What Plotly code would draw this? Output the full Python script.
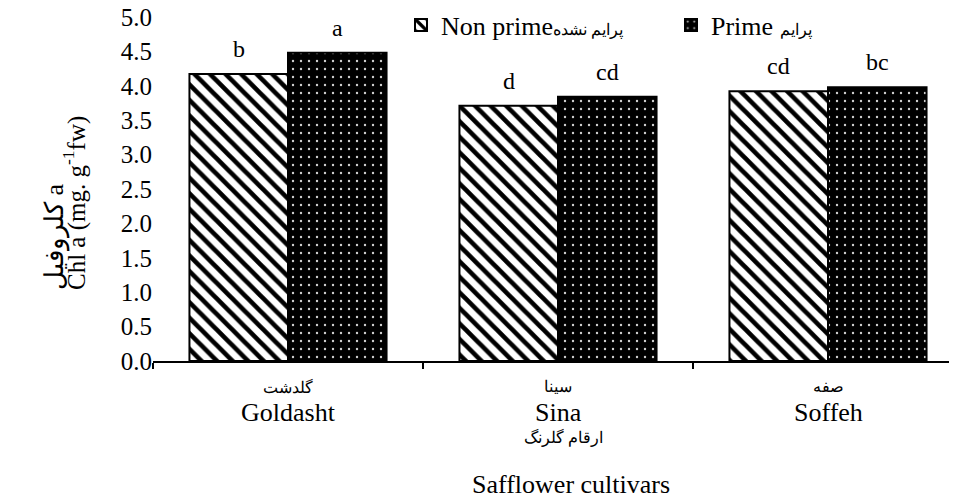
import plotly.graph_objects as go

# ---- data ----
cultivars_en = ["Goldasht", "Sina", "Soffeh"]
cultivars_fa = ["گلدشت", "سینا", "صفه"]
non_prime = [4.17, 3.71, 3.92]
prime = [4.48, 3.84, 3.98]
letters_non_prime = ["b", "d", "cd"]
letters_prime = ["a", "cd", "bc"]
y_tick_vals = [0.0, 0.5, 1.0, 1.5, 2.0, 2.5, 3.0, 3.5, 4.0, 4.5, 5.0]
name_non_prime = "Non prime<span style='font-size:16px'>پرایم نشده</span>"
name_prime = "Prime <span style='font-size:16px'>پرایم</span>"
ytitle_fa = "کلروفیل a"
ytitle_en = "Chl a (mg. g<sup>-1</sup>fw)"
xtitle_fa = "ارقام گلرنگ"
xtitle_en = "Safflower cultivars"

FONT = "Liberation Serif, Times New Roman, DejaVu Serif, serif"
W, H = 956, 499
ML, MR, MT, MB = 153, 7, 17, 138
BARGAP = 0.27
plot_w = W - ML - MR
plot_h = H - MT - MB


def px_x(px):
    return (px - ML) / plot_w


def px_y(py):
    return (H - MB - py) / plot_h


fig = go.Figure()
fig.add_trace(go.Bar(
    x=cultivars_en, y=non_prime, name=name_non_prime,
    marker=dict(color="white", line=dict(color="black", width=2),
                pattern=dict(shape="\\", fgcolor="black", bgcolor="white",
                             size=11, solidity=0.42, fillmode="replace")),
))
fig.add_trace(go.Bar(
    x=cultivars_en, y=prime, name=name_prime,
    marker=dict(color="black", line=dict(color="black", width=2),
                pattern=dict(shape=".", fgcolor="#d0d0d0", bgcolor="black",
                             size=8, solidity=0.07, fillmode="replace")),
))

cat_px = 270.0
x_max = plot_w / cat_px - 0.5
bar_px = cat_px * (1 - BARGAP) / 2
shift = bar_px / 2

annotations = []
for cat, v, t in zip(cultivars_en, non_prime, letters_non_prime):
    annotations.append(dict(x=cat, y=v, xref="x", yref="y", text=t, showarrow=False,
                            xshift=-shift, yshift=10, yanchor="bottom",
                            font=dict(family=FONT, size=24, color="black")))
for cat, v, t in zip(cultivars_en, prime, letters_prime):
    annotations.append(dict(x=cat, y=v, xref="x", yref="y", text=t, showarrow=False,
                            xshift=shift, yshift=10, yanchor="bottom",
                            font=dict(family=FONT, size=24, color="black")))

# category labels (Persian above English)
for fa, en in zip(cultivars_fa, cultivars_en):
    annotations.append(dict(x=en, y=px_y(387), xref="x", yref="paper", text=fa,
                            showarrow=False, yanchor="middle",
                            font=dict(family=FONT, size=16, color="black")))
    annotations.append(dict(x=en, y=px_y(412), xref="x", yref="paper", text=en,
                            showarrow=False, yanchor="middle",
                            font=dict(family=FONT, size=26, color="black")))

# axis titles
annotations.append(dict(x=px_x(55), y=px_y(237), xref="paper", yref="paper", text=ytitle_fa,
                        showarrow=False, textangle=-90, xanchor="center", yanchor="middle",
                        font=dict(family=FONT, size=26, color="black")))
annotations.append(dict(x=px_x(74), y=px_y(203), xref="paper", yref="paper", text=ytitle_en,
                        showarrow=False, textangle=-90, xanchor="center", yanchor="middle",
                        font=dict(family=FONT, size=25, color="black")))
annotations.append(dict(x=px_x(563), y=px_y(437), xref="paper", yref="paper",
                        text=xtitle_fa, showarrow=False, xanchor="center", yanchor="middle",
                        font=dict(family=FONT, size=16, color="black")))
annotations.append(dict(x=px_x(571), y=px_y(484), xref="paper", yref="paper",
                        text=xtitle_en, showarrow=False, xanchor="center", yanchor="middle",
                        font=dict(family=FONT, size=26, color="black")))

fig.update_layout(
    width=W, height=H,
    margin=dict(l=ML, r=MR, t=MT, b=MB, autoexpand=False),
    paper_bgcolor="white", plot_bgcolor="white",
    barmode="group", bargap=BARGAP, bargroupgap=0,
    font=dict(family=FONT, color="black"),
    showlegend=True,
    legend=dict(orientation="h", x=px_x(401), y=px_y(25),
                xanchor="left", yanchor="middle", bgcolor="rgba(0,0,0,0)",
                font=dict(family=FONT, size=26, color="black"),
                entrywidth=225, entrywidthmode="pixels", itemwidth=30),
    annotations=annotations,
    xaxis=dict(type="category", range=[-0.5, x_max], tickmode="array",
               tickvals=cultivars_en, showticklabels=False, tickson="boundaries",
               ticks="outside", ticklen=6, tickcolor="black", tickwidth=1.5,
               showline=True, linecolor="black", linewidth=2, showgrid=False,
               zeroline=False, automargin=False),
    yaxis=dict(range=[0, 5], tickmode="array", tickvals=y_tick_vals,
               ticktext=[f"{v:.1f}" for v in y_tick_vals],
               showline=False, showgrid=False, zeroline=False, ticks="",
               automargin=False,
               tickfont=dict(family=FONT, size=25, color="black")),
)

fig.write_html("out.html", config={"displayModeBar": False},
               post_script="document.body.style.margin='0';")
